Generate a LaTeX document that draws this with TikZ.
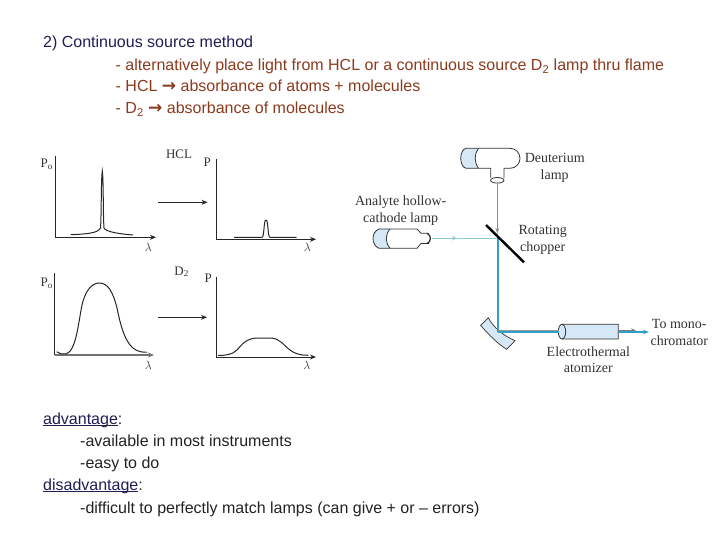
\documentclass[tikz,border=0pt]{standalone}
\usepackage{fontspec}
\setmainfont{Liberation Sans}
\newfontfamily\figfont{Liberation Serif}
\newfontfamily\arrowfont{DejaVu Sans Bold}
\usetikzlibrary{arrows.meta}
\definecolor{navytxt}{HTML}{1E1E55}
\definecolor{browntxt}{HTML}{8C3A1E}
\definecolor{darktxt}{HTML}{222222}
\definecolor{lampblue}{HTML}{D6E8F5}
\definecolor{beamblue}{HTML}{2F9FCB}
\definecolor{lightbeam}{HTML}{8CCBE0}
\definecolor{figtxt}{HTML}{333333}
\newcommand{\txtarrow}{{\arrowfont\fontsize{17}{17}\selectfont →}}
\newcommand{\ulin}[1]{\setbox0\hbox{#1}\rlap{\rule[-1.5pt]{\wd0}{0.8pt}}\box0}
\tikzset{
  head/.style={anchor=base west,inner sep=0pt,font=\fontsize{16}{18}\selectfont,text=navytxt},
  brownline/.style={anchor=base west,inner sep=0pt,font=\fontsize{16}{18}\selectfont,text=browntxt},
  body/.style={anchor=base west,inner sep=0pt,font=\fontsize{16}{18}\selectfont,text=darktxt},
  lab/.style={inner sep=0pt,font=\figfont\fontsize{14}{15}\selectfont,text=figtxt},
  small/.style={inner sep=0pt,font=\figfont\fontsize{13}{14}\selectfont,text=figtxt},
  axis/.style={line width=1pt,draw=black!85,-{Stealth[length=6pt,width=5pt]}},
  axisp/.style={line width=1pt,draw=black!85},
  curve/.style={line width=1pt,draw=black!85},
  flow/.style={line width=0.9pt,draw=black!85,-{Stealth[length=6pt,width=5pt]}},
  lampline/.style={line width=0.8pt,draw=black!80},
}
\begin{document}
\begin{tikzpicture}[x=1pt,y=-1pt]
\useasboundingbox (0,0) rectangle (720,540);
% text
\node[head]  (t1) at (43,48) {2) Continuous source method};
\node[brownline] (t2) at (115.5,70.5) {- alternatively place light from HCL or a continuous source D\textsubscript{2} lamp thru flame};
\node[brownline] (t3) at (115.5,92) {- HCL \txtarrow{} absorbance of atoms + molecules};
\node[brownline] (t4) at (115.5,113.7) {- D\textsubscript{2} \txtarrow{} absorbance of molecules};
\node[body] (b1) at (43,424.5) {\textcolor{navytxt}{\ulin{advantage}}:};
\node[body] (b2) at (80,446.7) {-available in most instruments};
\node[body] (b3) at (80,468.3) {-easy to do};
\node[body] (b4) at (43,490.5) {\textcolor{navytxt}{\ulin{disadvantage}}:};
\node[body] (b5) at (80,513.3) {-difficult to perfectly match lamps (can give + or -- errors)};
% graph 1
\coordinate (o1) at (55.3,237.3);
\coordinate (y1) at (55.3,155.7);
\coordinate (x1) at (156,237.3);
\draw[axisp] (y1) -- (o1);
\draw[axis] (o1) -- (x1);
\draw[curve] (70.7,234.7) .. controls (88,234) and (98,233) .. (100.5,228) .. controls (101.5,215) and (101,180) .. (102.3,171) .. controls (103.6,180) and (103,215) .. (104,228) .. controls (106,232) and (120,234) .. (133,235);
\node[small] (p1) at (46.7,164.3) {P\textsubscript{o}};
\node[small] (l1) at (148.3,247.3) {$\lambda$};
% graph 2
\coordinate (o2) at (216,239.3);
\coordinate (y2) at (216,159);
\coordinate (x2) at (316,239.3);
\draw[axisp] (y2) -- (o2);
\draw[axis] (o2) -- (x2);
\draw[curve] (234,237.3) -- (262,237.3) .. controls (264.5,237) and (263.5,220) .. (266,220) .. controls (268.5,220) and (267.5,237) .. (270,237.3) -- (296.7,237.3);
\node[small] (p2) at (207.3,162.3) {P};
\node[small] (l2) at (307.3,247.7) {$\lambda$};
% graph 3
\coordinate (o3) at (54.7,355);
\coordinate (y3) at (54.7,273.3);
\coordinate (x3) at (154,355);
\draw[axisp] (y3) -- (o3);
\draw[axis,line width=1.3pt,draw=black!55] (o3) -- (x3);
\draw[curve] (56.7,351.7) .. controls (60,353.5) and (63,355) .. (66,354) .. controls (76,351) and (78,325) .. (82,305) .. controls (85,292) and (91,283) .. (99.3,283) .. controls (108,283) and (113,292) .. (117,308) .. controls (121,328) and (126,345) .. (136,350) .. controls (140,352) and (143,352.3) .. (146.7,352.3);
\node[small] (p3) at (46.7,283.3) {P\textsubscript{o}};
\node[small] (l3) at (148.3,365.7) {$\lambda$};
% graph 4
\coordinate (o4) at (216,357);
\coordinate (y4) at (216,276.7);
\coordinate (x4) at (316,357);
\draw[axisp] (y4) -- (o4);
\draw[axis] (o4) -- (x4);
\draw[curve] (218,355.3) .. controls (225,355.5) and (232,355) .. (237,350) .. controls (242,344) and (247,338) .. (258,338) -- (270,338) .. controls (280,338) and (283,345) .. (290,350) .. controls (295,354) and (301,355.3) .. (308.3,355.3);
\node[small] (p4) at (208.3,278.3) {P};
\node[small] (l4) at (306.7,365.7) {$\lambda$};
% graph arrows
\coordinate (a1s) at (158.3,202.3);
\coordinate (a1e) at (207.5,202.3);
\coordinate (a2s) at (158.3,317.3);
\coordinate (a2e) at (207,317.3);
\draw[flow] (a1s) -- (a1e);
\draw[flow] (a2s) -- (a2e);
\node[small] (hcl) at (179,154.3) {HCL};
\node[small] (d2) at (181.7,271.7) {D\textsubscript{2}};
% deuterium lamp
\fill[lampblue] (478.5,148.3) -- (466,148.3) .. controls (459,150) and (459,166.5) .. (466,168.3) -- (478.5,168.3) .. controls (474,162) and (474,154) .. (478.5,148.3) -- cycle;
\draw[lampline] (466,148.3) -- (510,148.3) arc[start angle=-90,end angle=90,radius=10] -- (504,168.3) -- (504,178);
\draw[lampline] (466,148.3) .. controls (459,150) and (459,166.5) .. (466,168.3) -- (490.7,168.3) -- (490.7,178);
\draw[lampline] (478.5,148.3) .. controls (474,154) and (474,162) .. (478.5,168.3);
\draw[lampline] (497.3,180.3) ellipse[x radius=6.7,y radius=2.8];
% hollow cathode lamp
\fill[lampblue] (390,229) -- (379,229) .. controls (371,232) and (371,245) .. (379,248.3) -- (390,248.3) .. controls (385,242) and (385,235) .. (390,229) -- cycle;
\draw[lampline] (379,229) .. controls (371,232) and (371,245) .. (379,248.3) -- (417,248.3) -- (421,243.5) -- (429,243.5);
\draw[lampline] (379,229) -- (417,229) -- (421,233.3) -- (429,233.3);
\draw[lampline] (390,229) .. controls (385,235) and (385,242) .. (390,248.3);
\draw[line width=1.2pt,black!85] (427,233.3) .. controls (431.5,235) and (431.5,242) .. (427,243.5);
% mirror
\fill[lampblue,draw=black!80,line width=0.7pt] (480.7,325.5) -- (488.3,317.7) .. controls (493,327) and (503,335.5) .. (515,340.7) -- (506.7,349.3) .. controls (498,344) and (489,335) .. (480.7,325.5) -- cycle;
% atomizer
\fill[lampblue,draw=black!80,line width=0.8pt] (562,324.3) -- (618.3,324.3) -- (618.3,339) -- (562,339) arc[start angle=90,end angle=270,x radius=3.7,y radius=7.35] -- cycle;
\draw[lampline] (562,324.3) arc[start angle=-90,end angle=90,x radius=3.7,y radius=7.35];
% beams
\coordinate (d2out) at (497.3,183.3);
\coordinate (d2tip) at (497.3,233);
\coordinate (chop) at (497.5,238.3);
\coordinate (hclout) at (431.7,238.3);
\coordinate (hcltip) at (457,238.3);
\coordinate (mir) at (497.5,332);
\coordinate (atin) at (558.5,332);
\coordinate (mirg) at (497.5,330.2);
\coordinate (atg) at (558.5,330.2);
\coordinate (atoutg) at (618.5,330.5);
\coordinate (outg) at (636,330.5);
\coordinate (atout) at (618.5,332);
\coordinate (out) at (649,332);
\draw[black!45,line width=0.7pt,-{Stealth[length=5pt,width=4pt]}] (d2out) -- (d2tip);
\draw[black!45,line width=0.7pt] (d2tip) -- (chop);
\draw[lightbeam,line width=0.8pt] (hcltip) -- (chop);
\draw[lightbeam,line width=0.8pt,-{Stealth[length=5pt,width=4.5pt,fill=beamblue]}] (hclout) -- (hcltip);
\draw[beamblue,line width=2pt] (chop) -- (mir);
\draw[black!40,line width=0.8pt] (mirg) -- (atg);
\draw[beamblue,line width=2pt] (mir) -- (atin);
\draw[black!50,line width=0.8pt,-{Stealth[length=5pt,width=4.5pt]}] (atoutg) -- (outg);
\draw[beamblue,line width=1.2pt,-{Stealth[length=6pt,width=4.5pt]}] (atout) -- (out);
% chopper
\coordinate (ch1) at (486,225);
\coordinate (ch2) at (524,262.3);
\draw[black,line width=2.4pt] (ch1) -- (ch2);
% labels
\node[lab] (n1) at (554.7,158.3) {Deuterium};
\node[lab] (n2) at (554.7,175.7) {lamp};
\node[lab] (n3) at (400.7,202.3) {Analyte hollow-};
\node[lab] (n4) at (400.7,219) {cathode lamp};
\node[lab] (n5) at (542.7,231.7) {Rotating};
\node[lab] (n6) at (542.7,248.3) {chopper};
\node[lab] (n7) at (679.3,324.3) {To mono-};
\node[lab] (n8) at (679.3,341) {chromator};
\node[lab] (n9) at (588.3,351.7) {Electrothermal};
\node[lab] (n10) at (588.3,368.3) {atomizer};
\end{tikzpicture}
\end{document}
